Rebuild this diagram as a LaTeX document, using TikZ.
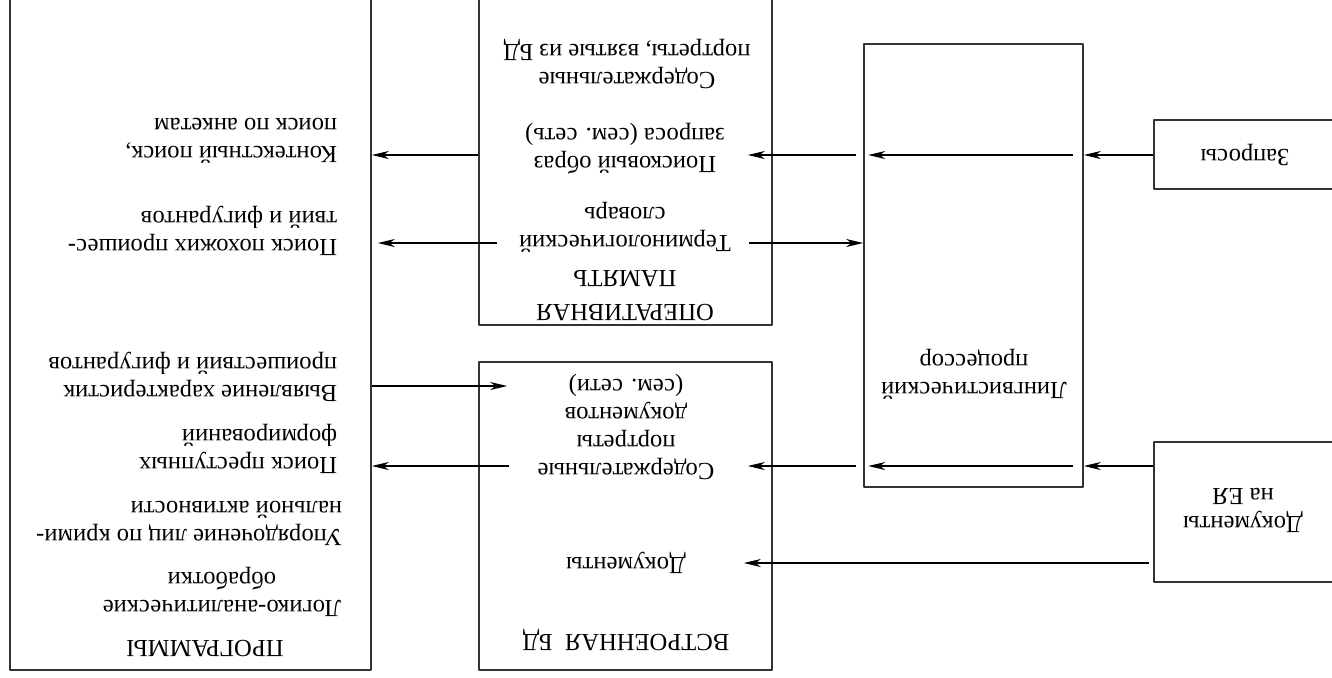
\documentclass[tikz,border=0pt]{standalone}
\usepackage{fontspec}
\setmainfont{Liberation Serif}
\usetikzlibrary{arrows.meta,calc}

\begin{document}
\begin{tikzpicture}[x=0.5pt,y=-0.5pt,line join=round,line width=0.8pt,>={Stealth[length=8.5pt,width=4pt,inset=2.6pt]},font=\fontsize{12.3}{14}\selectfont]
	\tikzset{box/.style={draw=black!80,rectangle,inner sep=0pt},
		txt/.style={rotate=180,align=center,inner sep=1pt},
		lft/.style={txt,align=left,anchor=west}}
	\useasboundingbox (0,0) rectangle (1332,677);
	\clip (0,0) rectangle (1332,677);
	% blocks
	\node[box,minimum width=180.5pt,minimum height=350pt] (prog) at (190.5,320) {};
	\node[box,minimum width=146.5pt,minimum height=177.5pt] (op) at (625.5,147.5) {};
	\node[box,minimum width=146.5pt,minimum height=154pt] (bd) at (625.5,516) {};
	\node[box,minimum width=109.5pt,minimum height=221.5pt] (ling) at (973.5,265.5) {};
	\node[box,minimum width=93pt,minimum height=34.5pt] (zapr) at (1247,154.5) {};
	\node[box,minimum width=93pt,minimum height=70pt] (doc) at (1247,512) {};
	% texts
	\node[lft] (kont) at (340,141) {Контекстный поиск,\\поиск по анкетам};
	\node[lft] (pohoz) at (340,231) {Поиск похожих проишес-\\твий и фигурантов};
	\node[lft] (vyyav) at (340,377) {Выявление характеристик\\проишествий и фигурантов};
	\node[lft] (prest) at (340,449) {Поиск преступных\\формирований};
	\node[lft] (upor) at (345,523) {Упорядочение лиц по крими-\\нальной активности};
	\node[txt] (logan) at (222,592) {Логико-аналитические\\обработки};
	\node[txt] (progt) at (205,649) {ПРОГРАММЫ};
	\node[txt] (portr) at (627,64) {Содержательные\\портреты, взятые из БД};
	\node[txt] (obraz) at (625,149) {Поисковый образ\\запроса (сем. сеть)};
	\node[txt] (slov) at (625,227) {Терминологический\\словарь};
	\node[txt] (opt) at (625,296) {ОПЕРАТИВНАЯ\\[3pt]ПАМЯТЬ};
	\node[txt] (sodp) at (626,427) {Содержательные\\портреты\\документов\\(сем. сети)};
	\node[txt] (dokt) at (626,563) {Документы};
	\node[txt] (bdt) at (626,640) {ВСТРОЕННАЯ\ \ БД};
	\node[txt] (lingt) at (974,374) {Лингвистический\\процессор};
	\node[txt] (zaprt) at (1245,155) {Запросы};
	\node[txt] (doct) at (1243,510) {Документы\\на ЕЯ};
	% rows
	\coordinate (r1) at (0,155);
	\coordinate (r2) at (0,243);
	\coordinate (r3) at (0,386);
	\coordinate (r4) at (0,466);
	\coordinate (r5) at (0,563);
	% connectors
	\foreach \r/\s/\t in {r1/zapr/op,r4/doc/bd}{
			\draw[->] (\s.west|-\r)--(ling.east|-\r);
			\draw[->] ($(ling.east|-\r)+(-11,0)$)--($(ling.west|-\r)+(5,0)$);
			\draw[->] ($(ling.west|-\r)+(-7,0)$)--($(\t.east|-\r)+(-25,0)$);
		}
	\draw[->] (op.west|-r1)--(prog.east|-r1);
	\draw[->] ($(op.west|-r2)+(19,0)$)--($(prog.east|-r2)+(6,0)$);
	\draw[->] ($(op.east|-r2)+(-24,0)$)--(ling.west|-r2);
	\draw[->] (prog.east|-r3)--($(bd.west|-r3)+(29,0)$);
	\draw[->] ($(bd.west|-r4)+(31,0)$)--(prog.east|-r4);
	\draw[->] ($(doc.west|-r5)+(-4,0)$)--($(bd.east|-r5)+(-29,0)$);
\end{tikzpicture}
\end{document}
